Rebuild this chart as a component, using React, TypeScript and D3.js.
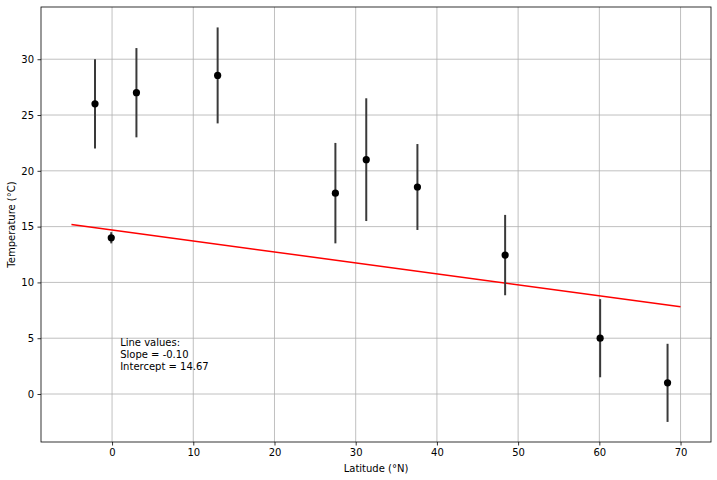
import { useEffect, useRef } from "react";
import * as d3 from "d3";

// ── Data ──────────────────────────────────────────────────────────────────
const latitudes = [-2.1, -0.1, 3, 13, 27.5, 31.3, 37.6, 48.4, 60.1, 68.4];
const temps = [26, 14, 27, 28.55, 18, 21, 18.55, 12.45, 5, 1];
const tempErr = [4, 0.5, 4, 4.3, 4.5, 5.5, 3.85, 3.6, 3.5, 3.5];
const lineX = [-5, 70];
const slope = -0.098;
const intercept = 14.69;
const xTicks = [0, 10, 20, 30, 40, 50, 60, 70];
const yTicks = [0, 5, 10, 15, 20, 25, 30];
const noteLines = ["Line values:", "Slope = -0.10", "Intercept = 14.67"];

const W = 717;
const H = 480;
const FONT = "DejaVu Sans, sans-serif";

export default function App() {
  const svgRef = useRef<SVGSVGElement>(null);

  useEffect(() => {
    const svg = d3.select(svgRef.current);
    svg.selectAll("*").remove();

    const m = { top: 7, right: 6, bottom: 38, left: 41 };
    const pw = W - m.left - m.right;
    const ph = H - m.top - m.bottom;

    const x = d3.scaleLinear().domain([-8.75, 73.75]).range([0, pw]);
    const y = d3.scaleLinear().domain([-4.3, 34.68]).range([ph, 0]);

    const g = svg.append("g").attr("transform", `translate(${m.left},${m.top})`);

    // ── grid ──────────────────────────────────────────────────────────────
    g.append("g").selectAll("line").data(xTicks).join("line")
      .attr("x1", d => x(d)).attr("x2", d => x(d)).attr("y1", 0).attr("y2", ph)
      .attr("stroke", "#b0b0b0").attr("stroke-width", 0.8);
    g.append("g").selectAll("line").data(yTicks).join("line")
      .attr("x1", 0).attr("x2", pw).attr("y1", d => y(d)).attr("y2", d => y(d))
      .attr("stroke", "#b0b0b0").attr("stroke-width", 0.8);

    // ── fit line ──────────────────────────────────────────────────────────
    g.append("path").datum(lineX)
      .attr("d", d3.line<number>().x(d => x(d)).y(d => y(slope * d + intercept)))
      .attr("fill", "none").attr("stroke", "#ff0000").attr("stroke-width", 1.5);

    // ── error bars + points ───────────────────────────────────────────────
    const idx = d3.range(latitudes.length);
    g.append("g").selectAll("line").data(idx).join("line")
      .attr("x1", i => x(latitudes[i])).attr("x2", i => x(latitudes[i]))
      .attr("y1", i => y(temps[i] - tempErr[i])).attr("y2", i => y(temps[i] + tempErr[i]))
      .attr("stroke", "#3a3a3a").attr("stroke-width", 2);
    g.append("g").selectAll("circle").data(idx).join("circle")
      .attr("cx", i => x(latitudes[i])).attr("cy", i => y(temps[i]))
      .attr("r", 3.6).attr("fill", "#000");

    // ── annotation ────────────────────────────────────────────────────────
    const note = g.append("text")
      .attr("font-family", FONT).attr("font-size", 10).attr("fill", "#000");
    noteLines.forEach((t, i) => {
      note.append("tspan")
        .attr("x", x(1))
        .attr("y", y(2) - 2 - (noteLines.length - 1 - i) * 11.7)
        .text(t);
    });

    // ── axes ──────────────────────────────────────────────────────────────
    const styleAxis = (ax: d3.Selection<SVGGElement, unknown, null, undefined>) => {
      ax.select(".domain").remove();
      ax.selectAll(".tick line").attr("stroke", "#000").attr("stroke-width", 0.8);
      ax.selectAll(".tick text").attr("fill", "#000").attr("font-size", 10)
        .attr("font-family", FONT);
    };
    g.append("g").attr("transform", `translate(0,${ph})`)
      .call(d3.axisBottom(x).tickValues(xTicks).tickSize(3.5).tickPadding(3.5).tickFormat(d3.format("d")))
      .call(styleAxis);
    g.append("g")
      .call(d3.axisLeft(y).tickValues(yTicks).tickSize(3.5).tickPadding(3.5).tickFormat(d3.format("d")))
      .call(styleAxis);

    // frame
    g.append("rect").attr("x", 0).attr("y", 0).attr("width", pw).attr("height", ph)
      .attr("fill", "none").attr("stroke", "#000").attr("stroke-width", 0.8);

    // ── labels ────────────────────────────────────────────────────────────
    svg.append("text")
      .attr("x", m.left + pw / 2).attr("y", 472)
      .attr("text-anchor", "middle").attr("font-family", FONT).attr("font-size", 10)
      .text("Latitude (°N)");
    svg.append("text")
      .attr("transform", `translate(15,${m.top + ph / 2}) rotate(-90)`)
      .attr("text-anchor", "middle").attr("font-family", FONT).attr("font-size", 10)
      .text("Temperature (°C)");
  }, []);

  return (
    <svg
      ref={svgRef}
      width={W}
      height={H}
      style={{ position: "fixed", left: 0, top: 0, background: "#fff" }}
    />
  );
}
